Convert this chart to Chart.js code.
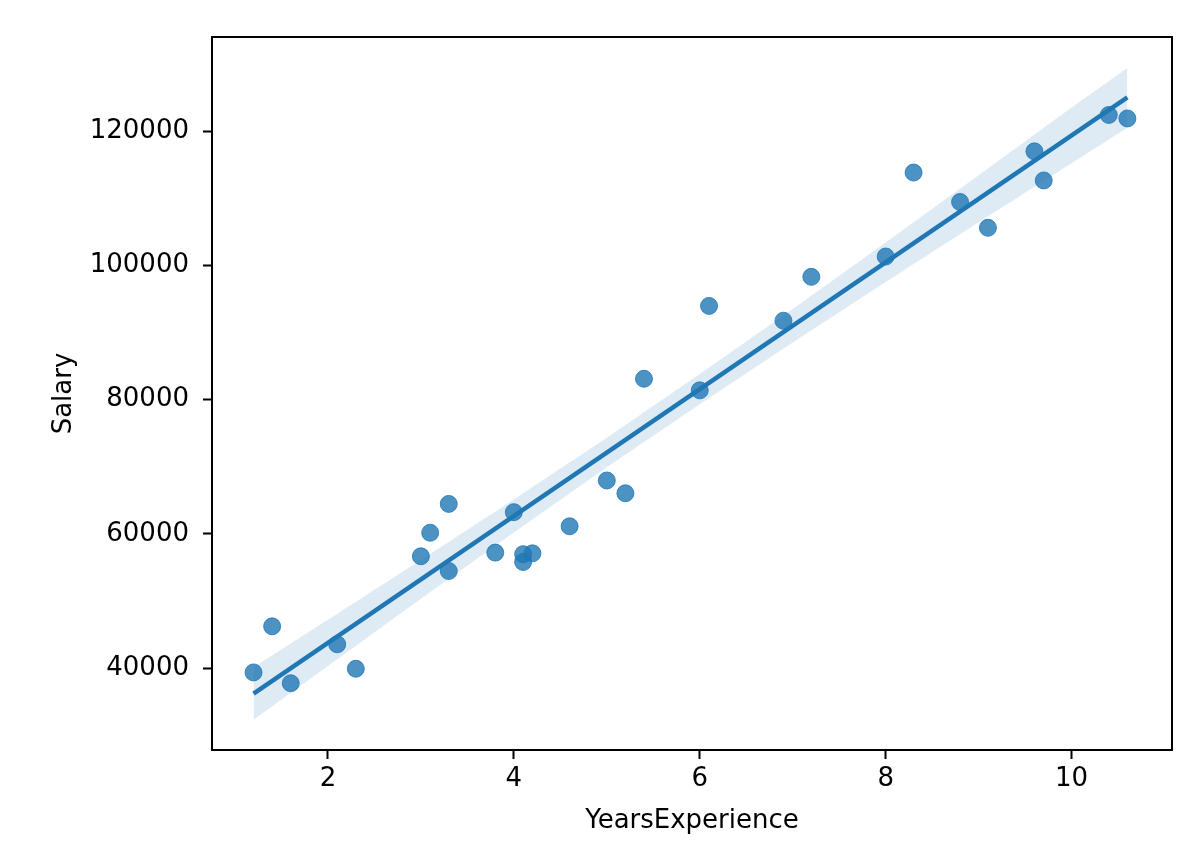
<!DOCTYPE html>
<html>
<head>
<meta charset="utf-8">
<script src="https://cdn.jsdelivr.net/npm/chart.js@4.4.1/dist/chart.umd.min.js"></script>
<style>
  html, body { margin: 0; padding: 0; background: #ffffff; }
  #wrap { width: 1200px; height: 852px; }
</style>
</head>
<body>
<div id="wrap"><canvas id="chart" width="1200" height="852"></canvas></div>
<script>
// data
const years = [1.2, 1.4, 1.6, 2.1, 2.3, 3.0, 3.1, 3.3, 3.3, 3.8, 4.0, 4.1, 4.1, 4.2, 4.6,
    5.0, 5.2, 5.4, 6.0, 6.1, 6.9, 7.2, 8.0, 8.3, 8.8, 9.1, 9.6, 9.7, 10.4, 10.6];
const salary = [39343, 46205, 37731, 43525, 39891, 56642, 60150, 54445, 64445, 57189, 63218,
    55794, 56957, 57081, 61111, 67938, 66029, 83088, 81363, 93940, 91738, 98273, 101302,
    113812, 109431, 105582, 116969, 112635, 122391, 121872];

// regression line ends and confidence band edges
const fitX = [1.2, 10.6];
const fitY = [36190, 125020];
const bandX = [1.2, 2, 3, 4, 5, 6, 7, 8, 9, 10, 10.6];
const bandUpper = [40100, 47200, 56100, 65100, 74300, 83800, 93500, 103400, 113400, 123500, 129400];
const bandLower = [32300, 40300, 50300, 60200, 69900, 79300, 88500, 97500, 106400, 115200, 120500];

const xTicks = [2, 4, 6, 8, 10];
const yTicks = [40000, 60000, 80000, 100000, 120000];

const blue = '#1f77b4';
const pts = (xs, ys) => xs.map((x, i) => ({ x: x, y: ys[i] }));

const frame = {
    id: 'frame',
    afterDraw(chart) {
        const a = chart.chartArea;
        const ctx = chart.ctx;
        ctx.save();
        ctx.strokeStyle = '#000';
        ctx.lineWidth = 2;
        ctx.strokeRect(a.left, a.top, a.right - a.left, a.bottom - a.top);
        ctx.restore();
    }
};

const tickFont = { family: 'DejaVu Sans', size: 26 };

new Chart(document.getElementById('chart'), {
    type: 'scatter',
    data: {
        datasets: [
            {
                label: 'points',
                data: pts(years, salary),
                backgroundColor: 'rgba(31,119,180,0.8)',
                borderColor: 'rgba(31,119,180,0.8)',
                borderWidth: 1,
                pointRadius: 8.5,
                order: 0
            },
            {
                label: 'fit',
                data: pts(fitX, fitY),
                showLine: true,
                borderColor: blue,
                borderWidth: 4.5,
                pointRadius: 0,
                order: 1
            },
            {
                label: 'lower',
                data: pts(bandX, bandLower),
                showLine: true,
                borderWidth: 0,
                borderColor: 'rgba(0,0,0,0)',
                pointRadius: 0,
                fill: false,
                order: 3
            },
            {
                label: 'upper',
                data: pts(bandX, bandUpper),
                showLine: true,
                borderWidth: 0,
                borderColor: 'rgba(0,0,0,0)',
                pointRadius: 0,
                backgroundColor: 'rgba(31,119,180,0.15)',
                fill: '-1',
                order: 2
            }
        ]
    },
    options: {
        responsive: false,
        animation: false,
        layout: { padding: { left: 0, top: 37, right: 28, bottom: 0 } },
        plugins: {
            legend: { display: false },
            tooltip: { enabled: false }
        },
        scales: {
            x: {
                type: 'linear',
                min: 0.753,
                max: 11.08,
                afterBuildTicks: s => { s.ticks = xTicks.map(v => ({ value: v })); },
                afterFit: s => { s.height = 102; },
                grid: {
                    drawOnChartArea: false,
                    drawTicks: true,
                    tickLength: 9,
                    tickWidth: 2,
                    tickColor: '#000'
                },
                border: { display: true, color: '#000', width: 2 },
                ticks: { color: '#000', font: tickFont, padding: 5, maxRotation: 0 },
                title: {
                    display: true,
                    text: 'YearsExperience',
                    color: '#000',
                    font: tickFont,
                    padding: { top: 15, bottom: 15 }
                }
            },
            y: {
                type: 'linear',
                min: 27784,
                max: 134004,
                afterBuildTicks: s => { s.ticks = yTicks.map(v => ({ value: v })); },
                afterFit: s => { s.width = 212; },
                grid: {
                    drawOnChartArea: false,
                    drawTicks: true,
                    tickLength: 9,
                    tickWidth: 2,
                    tickColor: '#000'
                },
                border: { display: true, color: '#000', width: 2 },
                ticks: { color: '#000', font: tickFont, padding: 14, callback: v => String(v) },
                title: {
                    display: true,
                    text: 'Salary',
                    color: '#000',
                    font: tickFont,
                    padding: { top: 49, bottom: 49 }
                }
            }
        }
    },
    plugins: [frame]
});
</script>
</body>
</html>
